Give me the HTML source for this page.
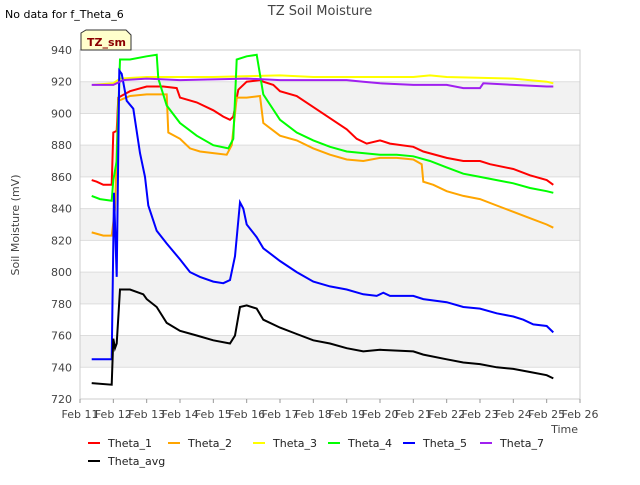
<!DOCTYPE html>
<html><head><meta charset="utf-8"><style>
body{margin:0;background:#fff;font-family:"Liberation Sans","DejaVu Sans",sans-serif;}
svg text{font-family:"DejaVu Sans","Liberation Sans",sans-serif;}
</style></head><body>
<svg id="chart" width="640" height="480" viewBox="0 0 640 480">
<rect width="640" height="480" fill="#fff"/>
<text x="320" y="15" text-anchor="middle" font-size="13" fill="#444">TZ Soil Moisture</text>
<text x="5" y="18" font-size="11" fill="#000">No data for f_Theta_6</text>
<g id="bands"></g>
<g id="grid"></g>
<rect x="80" y="50" width="500" height="349" fill="none" stroke="#ccc"/>
<g id="yticks"></g><g id="xticks"></g>
<text x="19" y="225" transform="rotate(-90 19 225)" text-anchor="middle" font-size="11" fill="#444">Soil Moisture (mV)</text>
<text x="578" y="433" text-anchor="end" font-size="11" fill="#444">Time</text>
<g id="series"></g>
<g>
<path d="M81,33 L86,30 L126,30 L131,35 L131,50 L81,50 Z" fill="#ffffcc" stroke="#333"/>
<text x="87" y="46" font-size="11" font-weight="bold" fill="#8b0000">TZ_sm</text>
</g>
<g id="legend"></g>
</svg>
<script>
const yTicks=[720,740,760,780,800,820,840,860,880,900,920,940];
const xTickLabels=["Feb 11","Feb 12","Feb 13","Feb 14","Feb 15","Feb 16","Feb 17","Feb 18","Feb 19","Feb 20","Feb 21","Feb 22","Feb 23","Feb 24","Feb 25","Feb 26"];
const seriesNames=["Theta_1","Theta_2","Theta_3","Theta_4","Theta_5","Theta_7","Theta_avg"];
const seriesColors=["#ff0000","#ffa500","#ffff00","#00ff00","#0000ff","#a020f0","#000000"];
const t1=[[11.35,858],[11.5,857],[11.7,855],[11.95,855],[12.0,888],[12.1,889],[12.15,910],[12.5,914],[13,917],[13.5,917],[13.9,916],[14.0,910],[14.5,907],[15,902],[15.3,898],[15.5,896],[15.6,898],[15.75,915],[16,920],[16.4,921],[16.5,920],[16.8,918],[17,914],[17.5,911],[18,904],[18.5,897],[19,890],[19.3,884],[19.6,881],[20,883],[20.3,881],[21,879],[21.3,876],[22,872],[22.5,870],[23,870],[23.3,868],[24,865],[24.5,861],[25,858],[25.2,855]];
const t2=[[11.35,825],[11.7,823],[11.95,823],[12.05,840],[12.15,908],[12.5,911],[13,912],[13.6,912],[13.65,888],[14,884],[14.3,878],[14.6,876],[15,875],[15.4,874],[15.55,880],[15.7,910],[16,910],[16.4,911],[16.5,894],[17,886],[17.5,883],[18,878],[18.5,874],[19,871],[19.5,870],[20,872],[20.5,872],[21,871],[21.25,868],[21.3,857],[21.6,855],[22,851],[22.5,848],[23,846],[23.5,842],[24,838],[24.5,834],[25,830],[25.2,828]];
const t3=[[11.4,918],[12,919],[12.2,922],[13,923],[15,923],[17,924],[18,923],[21,923],[21.5,924],[22,923],[24,922],[25,920],[25.2,919]];
const t4=[[11.35,848],[11.6,846],[11.95,845],[12.0,858],[12.1,870],[12.2,934],[12.5,934],[13,936],[13.3,937],[13.35,922],[13.6,905],[14,894],[14.5,886],[15,880],[15.45,878],[15.6,884],[15.7,934],[16,936],[16.3,937],[16.5,912],[17,896],[17.5,888],[18,883],[18.5,879],[19,876],[19.5,875],[20,874],[20.5,874],[21,873],[21.5,870],[22,866],[22.5,862],[23,860],[23.5,858],[24,856],[24.5,853],[25,851],[25.2,850]];
const t5=[[11.35,745],[11.95,745],[12.02,850],[12.1,797],[12.18,927],[12.25,925],[12.4,908],[12.6,903],[12.8,875],[12.95,860],[13.05,842],[13.3,826],[13.6,818],[14,808],[14.3,800],[14.6,797],[15,794],[15.3,793],[15.5,795],[15.65,810],[15.8,844],[15.9,840],[16,830],[16.3,822],[16.5,815],[17,807],[17.5,800],[18,794],[18.5,791],[19,789],[19.5,786],[19.9,785],[20.1,787],[20.3,785],[21,785],[21.3,783],[22,781],[22.5,778],[23,777],[23.5,774],[24,772],[24.3,770],[24.6,767],[25,766],[25.2,762]];
const t7=[[11.35,918],[12,918],[12.3,921],[13,922],[14,921],[16,922],[17,921],[19,921],[19.5,920],[20,919],[21,918],[22,918],[22.5,916],[23,916],[23.1,919],[24,918],[25,917],[25.2,917]];
const tavg=[[11.35,730],[11.95,729],[12.0,758],[12.05,752],[12.1,755],[12.2,789],[12.5,789],[12.9,786],[13,783],[13.3,778],[13.6,768],[14,763],[14.5,760],[15,757],[15.5,755],[15.65,760],[15.8,778],[16,779],[16.3,777],[16.5,770],[17,765],[17.5,761],[18,757],[18.5,755],[19,752],[19.5,750],[20,751],[21,750],[21.3,748],[22,745],[22.5,743],[23,742],[23.5,740],[24,739],[24.5,737],[25,735],[25.2,733]];
const seriesData=[t1,t2,t3,t4,t5,t7,tavg];

const NS="http://www.w3.org/2000/svg";
const X0=80,X1=580,Y0=399,Y1=50,D0=11,D1=26,V0=720,V1=940;
const xs=d=>X0+(d-D0)/(D1-D0)*(X1-X0);
const ys=v=>Y0-(v-V0)/(V1-V0)*(Y0-Y1);
function mk(tag,attrs,parent){const e=document.createElementNS(NS,tag);for(const k in attrs)e.setAttribute(k,attrs[k]);parent.appendChild(e);return e;}
const bands=document.getElementById('bands'),grid=document.getElementById('grid'),yt=document.getElementById('yticks'),xt=document.getElementById('xticks');
for(let i=0;i<yTicks.length-1;i++){
  if(i%2===1){const b=mk('rect',{x:X0,y:ys(yTicks[i+1]),width:X1-X0,height:ys(yTicks[i])-ys(yTicks[i+1]),fill:'#f2f2f2'},bands);
  
  }
}
yTicks.forEach(v=>{
  const l=mk('line',{x1:X0,x2:X1,y1:ys(v),y2:ys(v),stroke:'#ddd'},grid);
  
  
  const t=mk('text',{x:72,y:ys(v)+4,'text-anchor':'end','font-size':'11',fill:'#444'},yt);
  t.textContent=v;
  
  
});
xTickLabels.forEach((s,i)=>{
  const x=xs(D0+i);
  mk('line',{x1:x,x2:x,y1:Y0,y2:Y0+4,stroke:'#999'},xt);
  const t=mk('text',{x:x,y:418,'text-anchor':'middle','font-size':'11',fill:'#444'},xt);
  t.textContent=s;
  
  
});
const sg=document.getElementById('series');
seriesData.forEach((d,i)=>{
  const p=mk('polyline',{points:d.map(q=>xs(q[0]).toFixed(1)+','+ys(q[1]).toFixed(1)).join(' '),fill:'none',stroke:seriesColors[i],'stroke-width':'2'},sg);
  
  
});
const lg=document.getElementById('legend');
const lx=[88,168,253,328,403,480,88],ly=[443,443,443,443,443,443,461];
seriesNames.forEach((n,i)=>{
  const g=mk('g',{},lg);
  
  
  mk('line',{x1:lx[i],x2:lx[i]+12,y1:ly[i],y2:ly[i],stroke:seriesColors[i],'stroke-width':'2'},g);
  const t=mk('text',{x:lx[i]+20,y:ly[i]+4,'font-size':'11',fill:'#222'},g);
  t.textContent=n;
});
</script>
</body></html>
